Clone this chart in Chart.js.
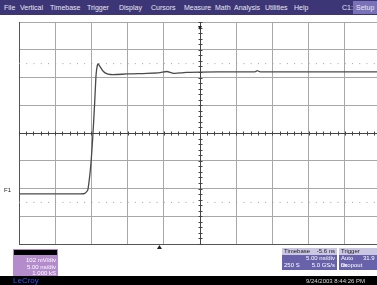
<!DOCTYPE html>
<html>
<head>
<meta charset="utf-8">
<script src="https://cdn.jsdelivr.net/npm/chart.js@4"></script>
<style>
  html, body { margin: 0; padding: 0; background: #fff; }
  body { width: 377px; height: 285px; overflow: hidden; position: relative; font-family: "Liberation Sans", Arial, sans-serif; }
  #wrap { position: absolute; left: 0; top: 0; width: 400px; height: 285px; }
  #menu { position: absolute; left: 0; top: 0; width: 377px; height: 15px; background: #3d3676; color: #e8e6f4; font-size: 7px; }
  #menu span { position: absolute; top: 4px; }
  #setup { position: absolute; left: 353px; top: 1px; width: 24px; height: 13px; background: #7a72b6; }
  .box { position: absolute; font-size: 6px; line-height: 6.5px; color: #fff; }
  #f1box { left: 13px; top: 249px; width: 45px; height: 28px; background: #b48ccc; text-align: right; }
  #f1box .hd { height: 5px; background: #000; margin: 1px 1px 2px 1px; }
  #f1box div.r { padding-right: 2px; }
  .pbox { background: #6862aa; top: 248px; height: 22px; }
  .pbox .hd { background: #cbc7e2; color: #222; height: 7px; line-height: 7px; padding: 0 2px; }
  .pbox .r { padding: 0 2px; height: 7px; line-height: 7px; }
  #bar { position: absolute; left: 0; top: 276px; width: 377px; height: 9px; background: #000; font-size: 7px; }
  #lecroy { position: absolute; left: 13px; top: 0px; color: #3350ff; font-size: 8px; line-height: 9px; }
  #stamp { position: absolute; left: 306px; top: 1px; color: #d8d8d8; font-size: 6px; line-height: 8px; white-space: nowrap; }
  #f1lab { position: absolute; left: 4px; top: 187px; font-size: 6px; color: #222; }
</style>
</head>
<body>
<div id="wrap"><canvas id="scope" width="400" height="285"></canvas></div>

<div id="menu">
  <span style="left:4px">File</span>
  <span style="left:20px">Vertical</span>
  <span style="left:50px">Timebase</span>
  <span style="left:87px">Trigger</span>
  <span style="left:119px">Display</span>
  <span style="left:151px">Cursors</span>
  <span style="left:184px">Measure</span>
  <span style="left:215px">Math</span>
  <span style="left:234px">Analysis</span>
  <span style="left:265px">Utilities</span>
  <span style="left:294px">Help</span>
  <span style="left:342px">C1:</span>
  <div id="setup"><span style="left:3px;top:3px">Setup</span></div>
</div>

<div id="f1lab">F1</div>

<div class="box" id="f1box">
  <div class="hd"></div>
  <div class="r">102 mV/div</div>
  <div class="r">5.00 ns/div</div>
  <div class="r">1.000 kS</div>
</div>

<div class="box pbox" style="left:282px;width:55px">
  <div class="hd">Timebase <span style="float:right">-5.6 ns</span></div>
  <div class="r" style="text-align:right">5.00 ns/div</div>
  <div class="r">250 S <span style="float:right">5.0 GS/s</span></div>
</div>
<div class="box pbox" style="left:339px;width:45px">
  <div class="hd">Trigger</div>
  <div class="r">Auto <span style="margin-left:8px">31.9 ns</span></div>
  <div class="r">Dropout Positive</div>
</div>

<div id="bar">
  <div id="lecroy">LeCroy</div>
  <div id="stamp">9/24/2003 8:44:26 PM</div>
</div>

<script>
// Traza F1 (tiempo en ns, tension en mV)
var tiempos = [-25, -20, -16.5, -15.9, -15.5, -15.2, -15.0, -14.8, -14.55, -14.35, -14.1, -13.8, -13.4, -12.9, -12.4, -11.5, -10.1, -8.5, -7.3, -5.5, -4.6, -3.5, -2.5, -1.8, 0, 5, 7.6, 7.9, 8.3, 12, 18, 25];
var tensiones = [-224, -224, -224, -222, -210, -150, -90, -10, 110, 215, 254, 244, 228, 218, 215, 215, 217, 218, 219, 222, 226, 219, 221, 223, 224, 225, 225, 229, 225, 225, 225, 225];

// Niveles punteados (cursores horizontales) en mV
var nivelesCursor = [255, -255];

// Escalas: 5 ns/div, 102 mV/div
var tiempoMin = -25, tiempoMax = 25, pasoTiempo = 5;
var tensionMin = -408, tensionMax = 408, pasoTension = 102;
var retardoTrigger = -5.6;

var puntosTraza = tiempos.map(function (t, i) { return { x: t, y: tensiones[i] }; });

var datasets = [{
    label: 'F1',
    data: puntosTraza,
    borderColor: '#4a4a4a',
    borderWidth: 1.3,
    pointRadius: 0,
    tension: 0.15
}];
nivelesCursor.forEach(function (v) {
    datasets.push({
        label: 'cursor',
        data: [{ x: tiempoMin, y: v }, { x: tiempoMax, y: v }],
        borderColor: '#a0a0a0',
        borderWidth: 1,
        borderDash: [1, 6.24],
        pointRadius: 0
    });
});

// Ejes centrales con marcas menores y marcadores de trigger
var ejesCentrales = {
    id: 'ejesCentrales',
    afterDatasetsDraw: function (chart) {
        var c = chart.ctx, xs = chart.scales.x, ys = chart.scales.y;
        var x0 = Math.round(xs.getPixelForValue(0)) + 0.5;
        var y0 = Math.round(ys.getPixelForValue(0)) + 0.5;
        c.save();
        c.strokeStyle = '#444';
        c.lineWidth = 1;
        c.beginPath();
        c.moveTo(chart.chartArea.left, y0); c.lineTo(chart.chartArea.right, y0);
        c.moveTo(x0, chart.chartArea.top); c.lineTo(x0, chart.chartArea.bottom);
        for (var t = tiempoMin; t <= tiempoMax; t += 1) {
            var px = Math.round(xs.getPixelForValue(t)) + 0.5;
            c.moveTo(px, y0 - 2); c.lineTo(px, y0 + 2);
        }
        for (var v = tensionMin; v <= tensionMax; v += pasoTension / 5) {
            var py = Math.round(ys.getPixelForValue(v)) + 0.5;
            c.moveTo(x0 - 2, py); c.lineTo(x0 + 2, py);
        }
        c.stroke();
        // flecha superior (centro) y triangulo de trigger abajo
        c.fillStyle = '#222';
        c.beginPath();
        c.moveTo(x0 - 0.5, chart.chartArea.top + 8);
        c.lineTo(x0 - 2.5, chart.chartArea.top + 4);
        c.lineTo(x0 + 1.5, chart.chartArea.top + 4);
        c.fill();
        var xt = xs.getPixelForValue(retardoTrigger);
        var yb = chart.chartArea.bottom;
        c.beginPath();
        c.moveTo(xt, yb + 1); c.lineTo(xt - 2.5, yb + 5); c.lineTo(xt + 2.5, yb + 5);
        c.fill();
        c.restore();
    }
};

var ctx = document.getElementById('scope').getContext('2d');
var grafica = new Chart(ctx, {
    type: 'line',
    data: { datasets: datasets },
    options: {
        responsive: false,
        animation: false,
        layout: { padding: { left: 19, right: 19, top: 22, bottom: 41 } },
        plugins: { legend: { display: false }, tooltip: { enabled: false } },
        scales: {
            x: {
                type: 'linear', min: tiempoMin, max: tiempoMax,
                ticks: { display: false, stepSize: pasoTiempo },
                grid: { color: '#a8a8a8', lineWidth: 1, drawTicks: false },
                border: { display: true, color: '#555' }
            },
            y: {
                type: 'linear', min: tensionMin, max: tensionMax,
                ticks: { display: false, stepSize: pasoTension },
                grid: { color: '#a8a8a8', lineWidth: 1, drawTicks: false },
                border: { display: true, color: '#555' }
            }
        }
    },
    plugins: [ejesCentrales]
});
</script>
</body>
</html>
